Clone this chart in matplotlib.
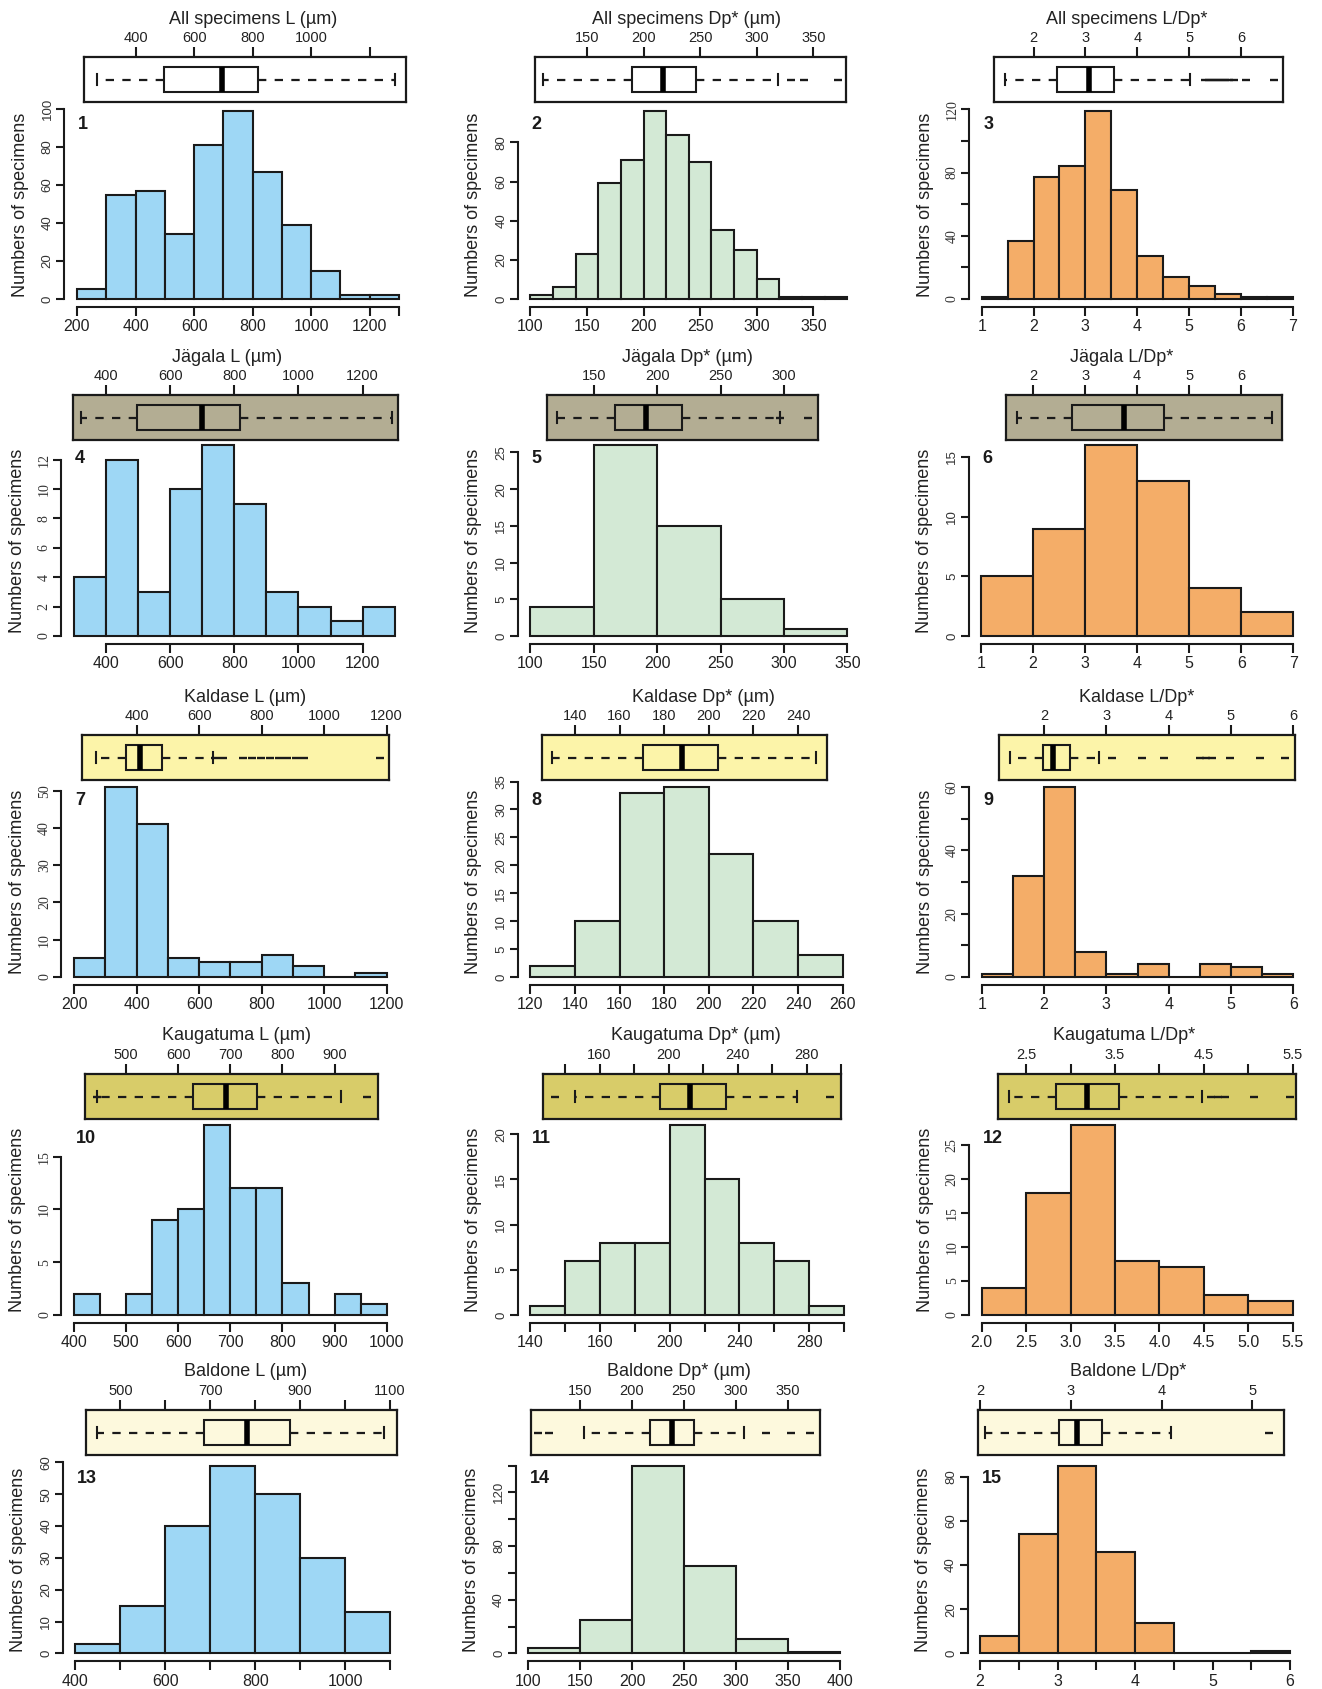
#%% Imports
import numpy as np
import matplotlib
matplotlib.use("Agg")
import matplotlib.pyplot as plt
from matplotlib.patches import Rectangle

plt.rcParams['font.family'] = ['Liberation Sans', 'DejaVu Sans']
plt.rcParams['lines.scale_dashes'] = False

#%% Data
titles = [
    "All specimens L (µm)", "All specimens Dp* (µm)", "All specimens L/Dp*",
    "Jägala L (µm)", "Jägala Dp* (µm)", "Jägala L/Dp*",
    "Kaldase L (µm)", "Kaldase Dp* (µm)", "Kaldase L/Dp*",
    "Kaugatuma L (µm)", "Kaugatuma Dp* (µm)", "Kaugatuma L/Dp*",
    "Baldone L (µm)", "Baldone Dp* (µm)", "Baldone L/Dp*",
]

# histogram bins: first edge, bin width, counts
bin_starts = [200, 100, 1, 300, 100, 1, 200, 120, 1, 400, 120, 2.0, 400, 100, 2]
bin_widths = [100, 20, 0.5, 100, 50, 1, 100, 20, 0.5, 50, 20, 0.5, 100, 50, 0.5]
counts = [
    [5, 55, 57, 34, 81, 99, 67, 39, 15, 2, 2],
    [2, 6, 23, 59, 71, 96, 84, 70, 35, 25, 10, 1, 1, 1],
    [1, 37, 77, 84, 119, 69, 27, 14, 8, 3, 1, 1],
    [4, 12, 3, 10, 13, 9, 3, 2, 1, 2],
    [4, 26, 15, 5, 1],
    [5, 9, 16, 13, 4, 2],
    [5, 51, 41, 5, 4, 4, 6, 3, 0, 1],
    [2, 10, 33, 34, 22, 10, 4],
    [1, 32, 60, 8, 1, 4, 0, 4, 3, 1],
    [2, 0, 2, 9, 10, 18, 12, 12, 3, 0, 2, 1],
    [1, 6, 8, 8, 21, 15, 8, 6, 1],
    [4, 18, 28, 8, 7, 3, 2],
    [3, 15, 40, 59, 50, 30, 13],
    [4, 25, 140, 65, 11, 1],
    [8, 54, 85, 46, 14, 0, 0, 1],
]

# boxplot: lower whisker, Q1, median, Q3, upper whisker
box_stats = [
    (269, 498, 695, 817, 1287),
    (111, 190, 217, 246, 319),
    (1.45, 2.45, 3.07, 3.56, 5.02),
    (322, 496, 700, 818, 1291),
    (121, 167, 191, 219.6, 297),
    (1.69, 2.75, 3.75, 4.52, 6.6),
    (270, 366, 411, 480, 646),
    (129.9, 170.6, 188, 204, 248),
    (1.45, 1.98, 2.15, 2.41, 2.89),
    (445, 629, 692, 751, 912),
    (145.8, 194.9, 212.3, 233.4, 274.5),
    (2.31, 2.84, 3.19, 3.54, 4.48),
    (449, 687, 782, 877, 1087),
    (154, 217, 238, 260, 308),
    (2.07, 3.02, 3.25, 3.57, 4.47),
]
outliers = [
    [],
    [330, 342, 372],
    [5.3, 5.38, 5.46, 5.54, 5.62, 5.7, 5.78, 5.86, 6.1, 6.64],
    [],
    [297, 319],
    [],
    [650, 676, 742, 770, 798, 826, 854, 882, 910, 936, 1179],
    [],
    [3.09, 3.57, 3.92, 4.5, 4.6, 4.7, 4.98, 5.47, 5.87],
    [445, 962],
    [134, 293.4],
    [4.58, 4.66, 4.74, 5.06, 5.47],
    [],
    [110, 120, 329, 353, 371],
    [5.73],
]

# bottom axis ticks and labels ('' = tick without label)
x_ticks = [
    [200, 400, 600, 800, 1000, 1200, 1300],
    [100, 150, 200, 250, 300, 350],
    [1, 2, 3, 4, 5, 6, 7],
    [400, 600, 800, 1000, 1200],
    [100, 150, 200, 250, 300, 350],
    [1, 2, 3, 4, 5, 6, 7],
    [200, 400, 600, 800, 1000, 1200],
    [120, 140, 160, 180, 200, 220, 240, 260],
    [1, 2, 3, 4, 5, 6],
    [400, 500, 600, 700, 800, 900, 1000],
    [120, 140, 160, 180, 200, 220, 240, 260, 280, 300],
    [2.0, 2.5, 3.0, 3.5, 4.0, 4.5, 5.0, 5.5],
    [400, 500, 600, 700, 800, 900, 1000, 1100],
    [100, 150, 200, 250, 300, 350, 400],
    [2, 2.5, 3, 3.5, 4, 4.5, 5, 5.5, 6],
]
x_labels = [
    ["200", "400", "600", "800", "1000", "1200", ""],
    ["100", "150", "200", "250", "300", "350"],
    ["1", "2", "3", "4", "5", "6", "7"],
    ["400", "600", "800", "1000", "1200"],
    ["100", "150", "200", "250", "300", "350"],
    ["1", "2", "3", "4", "5", "6", "7"],
    ["200", "400", "600", "800", "1000", "1200"],
    ["120", "140", "160", "180", "200", "220", "240", "260"],
    ["1", "2", "3", "4", "5", "6"],
    ["400", "500", "600", "700", "800", "900", "1000"],
    ["140", "", "160", "", "200", "", "240", "", "280", ""],
    ["2.0", "2.5", "3.0", "3.5", "4.0", "4.5", "5.0", "5.5"],
    ["400", "", "600", "", "800", "", "1000", ""],
    ["100", "150", "200", "250", "300", "350", "400"],
    ["2", "", "3", "", "4", "", "5", "", "6"],
]

# boxplot strip (top axis) ticks and labels
top_ticks = [
    [400, 600, 800, 1000, 1200],
    [150, 200, 250, 300, 350],
    [2, 3, 4, 5, 6],
    [400, 600, 800, 1000, 1200],
    [150, 200, 250, 300],
    [2, 3, 4, 5, 6],
    [400, 600, 800, 1000, 1200],
    [140, 160, 180, 200, 220, 240],
    [2, 3, 4, 5, 6],
    [500, 600, 700, 800, 900],
    [140, 160, 180, 200, 220, 240, 260, 280, 300],
    [2.5, 3.0, 3.5, 4.0, 4.5, 5.0, 5.5],
    [500, 600, 700, 800, 900, 1000, 1100],
    [150, 200, 250, 300, 350],
    [2, 3, 4, 5],
]
top_labels = [
    ["400", "600", "800", "1000", ""],
    ["150", "200", "250", "300", "350"],
    ["2", "3", "4", "5", "6"],
    ["400", "600", "800", "1000", "1200"],
    ["150", "200", "250", "300"],
    ["2", "3", "4", "5", "6"],
    ["400", "600", "800", "1000", "1200"],
    ["140", "160", "180", "200", "220", "240"],
    ["2", "3", "4", "5", "6"],
    ["500", "600", "700", "800", "900"],
    ["", "160", "", "200", "", "240", "", "280", ""],
    ["2.5", "", "3.5", "", "4.5", "", "5.5"],
    ["500", "", "700", "", "900", "", "1100"],
    ["150", "200", "250", "300", "350"],
    ["2", "3", "4", "5"],
]

# y axis: tick step and labelled step
y_steps = [20, 20, 20, 2, 5, 5, 10, 5, 10, 5, 5, 5, 10, 20, 20]
y_label_steps = [20, 20, 40, 2, 5, 5, 10, 5, 20, 5, 5, 5, 10, 40, 20]
y_serif = [False, False, True, True, False, False, True, False, True,
           True, False, True, False, False, False]

#%% Layout (pixels of the 1322 x 1689 canvas)
W, H = 1322, 1689
bin_px = [(77, 399), (530.3, 847.3), (981.7, 1292.7),
          (73.9, 394.7), (530.3, 847.3), (981, 1293.3),
          (74, 386.7), (530.3, 842.7), (981.7, 1293.3),
          (74, 386.7), (530.3, 844), (981.7, 1292.7),
          (75.4, 390), (528, 840), (980, 1290)]
strip_span = [(223, 1324), (104, 379), (1.24, 6.81),
              (298, 1311), (112.9, 327), (1.48, 6.79),
              (225.6, 1207), (125.2, 253), (1.28, 6.03),
              (421, 983), (127.4, 298.5), (2.18, 5.54),
              (424, 1115), (103, 381), (1.97, 5.92)]
# the Baldone L/Dp* strip carries its own top scale
top_span = {14: (1.976, 5.345)}
title_x = [253, 687, 1127, 227, 687, 1122, 245, 703, 1137,
           236, 696, 1124, 246, 679, 1128]
row_bottom = [306.5, 643.5, 984.5, 1322.5, 1661]
hist_height = [203, 206, 205, 205, 203]
strip_bottom = [102, 440, 780, 1119, 1455]
strip_h = 45

hist_colors = ['#9ed7f5', '#d3e9d5', '#f4ad68']
strip_colors = ['#ffffff', '#b3ad93', '#fcf4a9', '#d8cc69', '#fdf9dd']
ink = '#1a1a1a'
dash = (0, (6, 6))

fig = plt.figure(figsize=(W / 100, H / 100), dpi=100)

#%% Panels
for i in range(15):
    r, c = divmod(i, 3)
    lo, w = bin_starts[i], bin_widths[i]
    n = len(counts[i])
    edges = lo + w * np.arange(n + 1)
    hi = edges[-1]
    p0, p1 = bin_px[i]
    k = (p1 - p0) / (hi - lo)          # px per data unit
    pad = 0.04 * (hi - lo)
    left, right = p0 - pad * k, p1 + pad * k
    bot = row_bottom[r]
    top = bot - hist_height[r]

    ## Histogram
    ax = fig.add_axes([left / W, 1 - bot / H, (right - left) / W, (bot - top) / H])
    ax.bar(edges[:-1], counts[i], width=w, align='edge', color=hist_colors[c],
           edgecolor=ink, linewidth=1.5)
    ymax = max(counts[i])
    ax.set_xlim(lo - pad, hi + pad)
    ax.set_ylim(-0.04 * ymax, 1.04 * ymax)

    yt = np.arange(0, 1.04 * ymax + 1e-9, y_steps[i])
    ylab = [f"{v:g}" if v % y_label_steps[i] == 0 else "" for v in yt]
    ax.set_yticks(yt)
    ax.set_yticklabels(ylab)
    ax.set_xticks(x_ticks[i])
    ax.set_xticklabels(x_labels[i])

    for s in ('top', 'right'):
        ax.spines[s].set_visible(False)
    for s in ('left', 'bottom'):
        ax.spines[s].set_linewidth(1.5)
        ax.spines[s].set_color(ink)
    ax.spines['left'].set_bounds(yt[0], yt[-1])
    ax.spines['bottom'].set_bounds(x_ticks[i][0], x_ticks[i][-1])

    ax.tick_params(axis='x', direction='out', length=6.5, width=1.5, pad=2.5,
                   labelsize=11.5, color=ink, labelcolor='#222222')
    ax.tick_params(axis='y', direction='out', length=5.5, width=1.5, pad=2,
                   labelsize=9.5, color=ink, labelcolor='#333333')
    for t in ax.get_yticklabels():
        t.set_rotation(90)
        t.set_va('center')
        if y_serif[i]:
            t.set_family('Liberation Serif')
            t.set_fontsize(10)

    ax.annotate(str(i + 1), xy=(0, 1), xycoords='axes fraction',
                xytext=(10, -15), textcoords='offset points',
                ha='left', va='center', fontsize=13, fontweight='bold', color=ink)

    fig.text((left - 44) / W, 1 - (bot + top) / 2 / H, "Numbers of specimens",
             rotation=90, ha='center', va='center', fontsize=13, color='#222222')

    ## Boxplot strip
    s0, s1 = strip_span[i]
    sl = p0 + (s0 - lo) * k
    sr = p0 + (s1 - lo) * k
    sb = strip_bottom[r]
    rect = [sl / W, 1 - sb / H, (sr - sl) / W, strip_h / H]
    sx = fig.add_axes(rect)
    sx.set_facecolor(strip_colors[r])
    sx.set_xlim(s0, s1)
    sx.set_ylim(0, 1)
    for sp in sx.spines.values():
        sp.set_linewidth(1.6)
        sp.set_color(ink)
    sx.set_yticks([])

    # top scale: same axes, or an overlay when the strip has its own scale
    tx = sx
    if i in top_span:
        tx = fig.add_axes(rect, frameon=False)
        tx.patch.set_visible(False)
        tx.set_xlim(*top_span[i])
        tx.set_yticks([])
    else:
        sx.set_xticks([])
    tx.xaxis.tick_top()
    tx.set_xticks(top_ticks[i])
    tx.set_xticklabels(top_labels[i])
    tx.tick_params(axis='x', direction='out', length=7, width=1.5, pad=1.5,
                   labelsize=10.5, color=ink, labelcolor='#222222')
    if tx is not sx:
        sx.tick_params(axis='x', which='both', bottom=False, top=False,
                       labelbottom=False, labeltop=False)

    wlo, q1, med, q3, whi = box_stats[i]
    yc = 0.5
    sx.add_patch(Rectangle((q1, 0.22), q3 - q1, 0.56, fill=False,
                           edgecolor=ink, linewidth=1.5))
    sx.plot([med, med], [0.22, 0.78], color='black', linewidth=4,
            solid_capstyle='butt')
    sx.plot([q1, wlo], [yc, yc], color=ink, linewidth=1.6, linestyle=dash)
    sx.plot([q3, whi], [yc, yc], color=ink, linewidth=1.6, linestyle=dash)
    for v in (wlo, whi):
        sx.plot([v, v], [yc - 0.12, yc + 0.12], color=ink, linewidth=1.5)
    if outliers[i]:
        sx.plot(outliers[i], [yc] * len(outliers[i]), linestyle='none',
                marker='_', markersize=6, markeredgewidth=1.7, color=ink)

    fig.text(title_x[i] / W, 1 - (sb - strip_h - 38) / H, titles[i],
             ha='center', va='center', fontsize=13, color='#222222')

fig.savefig("out.png", dpi=100)
